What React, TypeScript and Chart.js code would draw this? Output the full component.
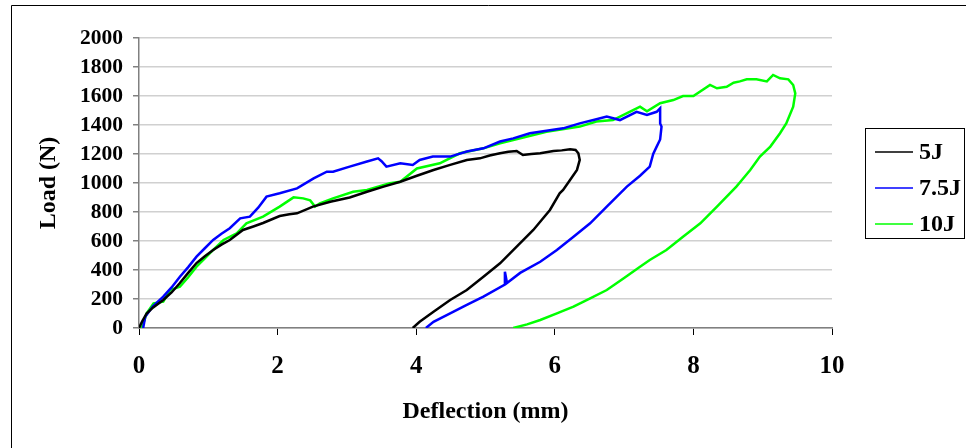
import React, { useEffect, useRef } from "react";
import { Chart, registerables } from "chart.js";

Chart.register(...registerables);

const seriesLabels = ["5J", "7.5J", "10J"];
const seriesColors = ["#000000", "#0000ff", "#00ff00"];
const xTickValues = [0, 2, 4, 6, 8, 10];
const yTickValues = [0, 200, 400, 600, 800, 1000, 1200, 1400, 1600, 1800, 2000];
const xTitle = "Deflection (mm)";
const yTitle = "Load (N)";

const j5Deflection = [0, 0.05, 0.11, 0.2, 0.35, 0.47, 0.59, 0.71, 0.83, 0.95, 1.07, 1.19, 1.31, 1.5, 1.65, 1.79, 2.03, 2.17, 2.28, 2.51, 2.76, 3.04, 3.29, 3.53, 3.77, 4.01, 4.25, 4.49, 4.73, 4.92, 5.06, 5.21, 5.33, 5.45, 5.54, 5.66, 5.79, 5.98, 6.1, 6.22, 6.3, 6.34, 6.36, 6.32, 6.22, 6.12, 6.07, 5.93, 5.81, 5.69, 5.45, 5.21, 4.97, 4.73, 4.49, 4.25, 4.05, 3.95];
const j5Load = [0, 50, 100, 140, 193, 245, 310, 380, 448, 495, 538, 575, 607, 676, 700, 724, 772, 785, 791, 837, 871, 900, 940, 975, 1009, 1050, 1090, 1125, 1159, 1170, 1190, 1205, 1215, 1221, 1193, 1200, 1205, 1221, 1225, 1232, 1228, 1205, 1159, 1090, 1021, 952, 929, 814, 745, 676, 561, 446, 354, 262, 193, 112, 43, 0];

const j75Deflection = [0.06, 0.09, 0.2, 0.35, 0.47, 0.59, 0.71, 0.83, 0.95, 1.07, 1.19, 1.31, 1.46, 1.6, 1.72, 1.84, 2.03, 2.28, 2.52, 2.71, 2.8, 3.04, 3.29, 3.45, 3.5, 3.57, 3.77, 3.95, 4.05, 4.24, 4.49, 4.73, 4.97, 5.21, 5.4, 5.64, 5.88, 6.12, 6.36, 6.6, 6.75, 6.94, 7.18, 7.33, 7.47, 7.52, 7.52, 7.54, 7.52, 7.47, 7.42, 7.37, 7.23, 7.04, 6.75, 6.51, 6.27, 6.03, 5.79, 5.5, 5.31, 5.28, 5.28, 4.97, 4.73, 4.49, 4.25, 4.14];
const j75Load = [0, 78, 150, 216, 280, 354, 420, 492, 550, 607, 650, 688, 756, 768, 830, 906, 929, 963, 1032, 1078, 1078, 1113, 1148, 1170, 1150, 1113, 1136, 1124, 1159, 1182, 1182, 1217, 1239, 1286, 1308, 1343, 1360, 1377, 1411, 1440, 1458, 1434, 1491, 1469, 1491, 1515, 1411, 1389, 1300, 1251, 1200, 1113, 1050, 975, 837, 722, 630, 538, 457, 380, 310, 388, 300, 216, 159, 101, 43, 0];

const j10Deflection = [0.04, 0.11, 0.21, 0.35, 0.45, 0.59, 0.71, 0.83, 0.95, 1.07, 1.22, 1.41, 1.55, 1.79, 2.03, 2.23, 2.37, 2.47, 2.54, 2.61, 2.8, 3.09, 3.29, 3.62, 3.77, 4.01, 4.34, 4.63, 4.97, 5.21, 5.4, 5.88, 6.36, 6.6, 6.84, 7.13, 7.23, 7.33, 7.52, 7.71, 7.85, 8.0, 8.24, 8.34, 8.48, 8.58, 8.67, 8.77, 8.91, 9.06, 9.15, 9.25, 9.37, 9.44, 9.47, 9.44, 9.34, 9.25, 9.11, 8.96, 8.82, 8.7, 8.62, 8.34, 8.1, 7.85, 7.61, 7.37, 7.23, 6.99, 6.75, 6.51, 6.27, 6.03, 5.79, 5.6, 5.4];
const j10Load = [0, 101, 170, 182, 262, 285, 350, 423, 480, 538, 607, 653, 722, 768, 837, 901, 894, 880, 837, 860, 894, 940, 952, 998, 1009, 1100, 1136, 1205, 1239, 1274, 1297, 1354, 1389, 1424, 1434, 1503, 1526, 1494, 1550, 1572, 1600, 1600, 1676, 1653, 1664, 1692, 1701, 1715, 1715, 1701, 1745, 1722, 1715, 1676, 1618, 1526, 1411, 1343, 1251, 1182, 1090, 1021, 975, 837, 722, 630, 538, 469, 423, 342, 262, 205, 147, 101, 55, 25, 0];

const FONT = "'Liberation Serif', 'Times New Roman', serif";

const toPoints = (xs: number[], ys: number[]) => xs.map((x, i) => ({ x, y: ys[i] }));

const framePlugin = {
  id: "frameAndLegend",
  beforeDraw(chart: any) {
    const ctx = chart.ctx;
    ctx.save();
    ctx.fillStyle = "#ffffff";
    ctx.fillRect(0, 0, chart.width, chart.height);
    ctx.restore();
  },
  afterDraw(chart: any) {
    const ctx = chart.ctx;
    ctx.save();
    ctx.strokeStyle = "#000000";
    ctx.lineWidth = 1;
    ctx.beginPath();
    ctx.moveTo(11.5, chart.height);
    ctx.lineTo(11.5, 5.5);
    ctx.lineTo(chart.width, 5.5);
    ctx.stroke();
    const bx = 865.5, by = 128.5, bw = 99, bh = 110;
    ctx.fillStyle = "#ffffff";
    ctx.fillRect(bx, by, bw, bh);
    ctx.strokeRect(bx, by, bw, bh);
    const rows = [152, 188, 224];
    ctx.font = `bold 24px ${FONT}`;
    ctx.textBaseline = "middle";
    ctx.textAlign = "left";
    chart.data.datasets.forEach((ds: any, i: number) => {
      ctx.strokeStyle = ds.borderColor;
      ctx.lineWidth = 1.5;
      ctx.beginPath();
      ctx.moveTo(875, rows[i]);
      ctx.lineTo(913, rows[i]);
      ctx.stroke();
      ctx.fillStyle = "#000000";
      ctx.fillText(ds.label, 919, rows[i] + 1);
    });
    ctx.restore();
  },
};

export default function App() {
  const canvasRef = useRef<HTMLCanvasElement | null>(null);

  useEffect(() => {
    if (!canvasRef.current) return;
    const series = [
      toPoints(j5Deflection, j5Load),
      toPoints(j75Deflection, j75Load),
      toPoints(j10Deflection, j10Load),
    ];
    const chart = new Chart(canvasRef.current, {
      type: "scatter",
      data: {
        datasets: series.map((data, i) => ({
          label: seriesLabels[i],
          data,
          showLine: true,
          borderColor: seriesColors[i],
          backgroundColor: seriesColors[i],
          borderWidth: 2.5,
          pointRadius: 0,
          tension: 0,
        })),
      },
      options: {
        animation: false,
        responsive: true,
        maintainAspectRatio: false,
        layout: { padding: { left: 30, top: 38, right: 134, bottom: 18 } },
        plugins: { legend: { display: false }, tooltip: { enabled: false } },
        scales: {
          x: {
            type: "linear",
            min: 0,
            max: 10,
            afterBuildTicks: (s: any) => { s.ticks = xTickValues.map((v) => ({ value: v })); },
            afterFit: (s: any) => { s.height = 102; },
            ticks: { color: "#000", padding: 17, callback: (v: any) => String(v), font: { family: FONT, size: 25, weight: "bold" } },
            grid: { drawOnChartArea: false, drawTicks: true, tickLength: 7, color: "#000", lineWidth: 1 },
            border: { color: "#808080", width: 1.5 },
            title: { display: true, text: xTitle, color: "#000", font: { family: FONT, size: 24, weight: "bold" } },
          },
          y: {
            type: "linear",
            min: 0,
            max: 2000,
            afterBuildTicks: (s: any) => { s.ticks = yTickValues.map((v) => ({ value: v })); },
            afterFit: (s: any) => { s.width = 109; },
            ticks: { color: "#000", padding: 10, callback: (v: any) => String(v), font: { family: FONT, size: 21.5, weight: "bold" } },
            grid: { color: "#d0d0d0", lineWidth: 1.5, tickColor: "#808080", tickLength: 6 },
            border: { color: "#808080", width: 1.5 },
            title: { display: true, text: yTitle, color: "#000", font: { family: FONT, size: 24, weight: "bold" } },
          },
        },
      },
      plugins: [framePlugin],
    } as any);
    return () => chart.destroy();
  }, []);

  return (
    <div style={{ position: "absolute", left: 0, top: 0, width: 966, height: 448, background: "#fff" }}>
      <canvas ref={canvasRef} />
    </div>
  );
}
